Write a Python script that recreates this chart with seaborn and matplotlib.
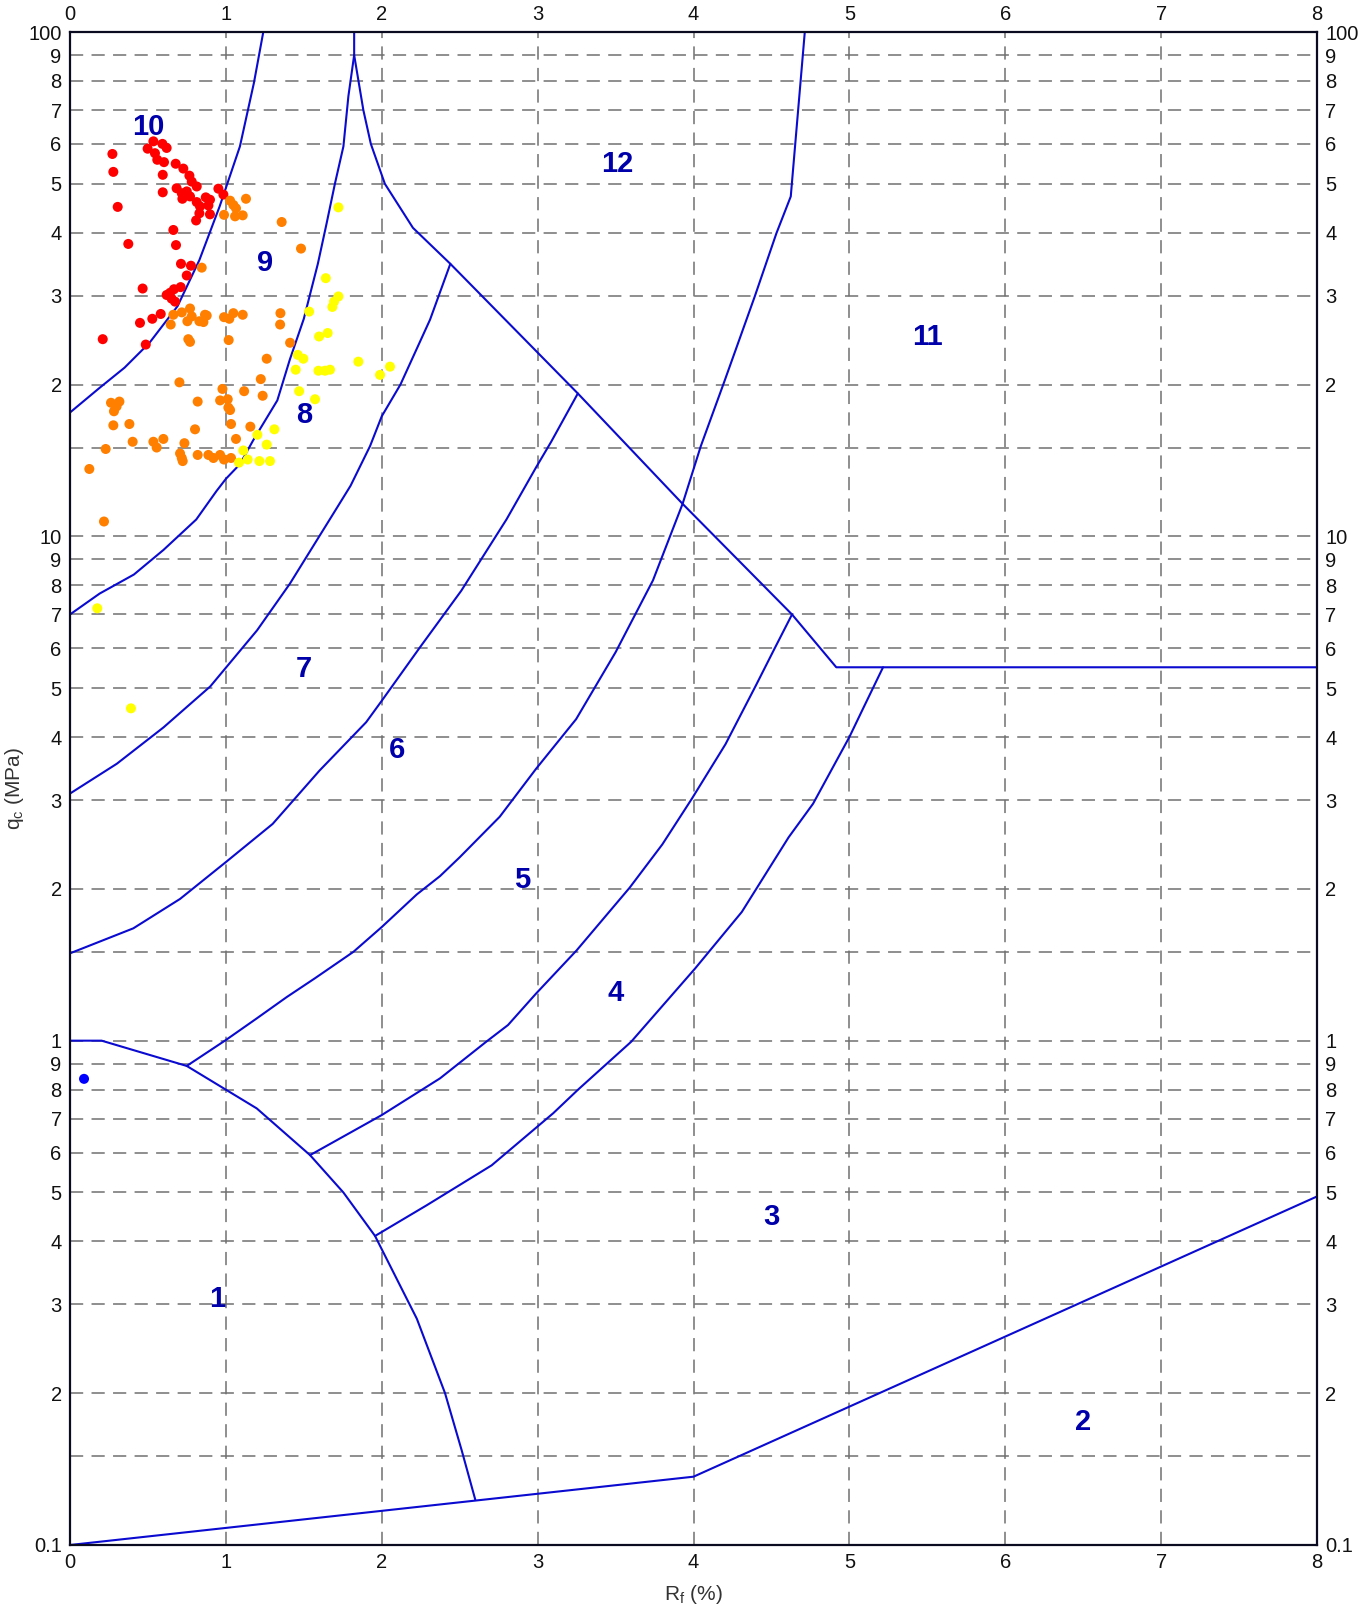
import numpy as np
import pandas as pd
import matplotlib
matplotlib.use("Agg")
import matplotlib.pyplot as plt
import seaborn as sns
from matplotlib.ticker import NullFormatter, FixedLocator

# ---------------- data ----------------
# zone boundary lines (Rf %, qc MPa)
b10_9_x = [0, 0.19, 0.35, 0.51, 0.69, 0.83, 0.96, 1.09, 1.18, 1.24]
b10_9_y = [17.6, 19.7, 21.6, 24.2, 28.6, 35.3, 45.1, 59.3, 79.3, 100]

b9_8_x = [0, 0.19, 0.41, 0.60, 0.81, 0.94, 1.0, 1.09, 1.175, 1.33, 1.41, 1.50, 1.59, 1.646, 1.70, 1.754, 1.786, 1.823, 1.823]
b9_8_y = [7.0, 7.7, 8.4, 9.4, 10.8, 12.3, 13.0, 13.9, 15.5, 18.6, 22.4, 27.0, 34.7, 41.7, 50.1, 59.3, 74.6, 90, 100]

b8_7_x = [0, 0.3, 0.6, 0.9, 1.2, 1.41, 1.69, 1.8, 1.925, 2.0, 2.12, 2.31, 2.44]
b8_7_y = [3.09, 3.54, 4.18, 5.04, 6.51, 8.05, 11.1, 12.6, 15.1, 17.3, 20.0, 26.9, 34.7]

b7_6_x = [0, 0.406, 0.706, 1.0, 1.30, 1.60, 1.90, 2.0, 2.246, 2.51, 2.80, 2.99, 3.087, 3.258]
b7_6_y = [1.49, 1.67, 1.91, 2.26, 2.69, 3.43, 4.28, 4.72, 6.03, 7.8, 10.8, 13.7, 15.4, 19.2]

b12_x = [1.823, 1.882, 1.93, 2.02, 2.20, 2.44, 3.258, 3.93, 4.632, 4.916, 8.0]
b12_y = [90, 70, 60, 50, 40.9, 34.7, 19.2, 11.6, 7.0, 5.5, 5.5]

b6_5_x = [0.749, 1.0, 1.198, 1.39, 1.572, 1.818, 2.0, 2.225, 2.374, 2.50, 2.757, 2.99, 3.247, 3.50,
          3.74, 3.93, 4.047, 4.196, 4.393, 4.532, 4.624, 4.714]
b6_5_y = [0.891, 1.003, 1.107, 1.22, 1.33, 1.50, 1.68, 1.95, 2.12, 2.31, 2.78, 3.46, 4.34, 5.89,
          8.18, 11.6, 15.1, 20.2, 29.9, 39.9, 47.2, 100]

b5_4_x = [1.54, 2.0, 2.374, 2.67, 2.81, 2.99, 3.25, 3.59, 3.80, 3.99, 4.205, 4.40, 4.514, 4.632]
b5_4_y = [0.593, 0.712, 0.842, 0.995, 1.074, 1.24, 1.51, 2.01, 2.45, 3.02, 3.87, 5.06, 5.94, 7.0]

b4_3_x = [1.957, 2.29, 2.705, 3.10, 3.26, 3.60, 4.01, 4.31, 4.61, 4.767, 5.0, 5.09, 5.216]
b4_3_y = [0.41, 0.472, 0.566, 0.718, 0.80, 0.995, 1.39, 1.80, 2.53, 2.95, 4.0, 4.57, 5.5]

b1_x = [0, 0.203, 0.749, 1.198, 1.54, 1.754, 1.957, 2.225, 2.406, 2.513, 2.6]
b1_y = [1.0, 1.0, 0.891, 0.734, 0.593, 0.50, 0.41, 0.281, 0.20, 0.154, 0.123]

b2_x = [0, 4.0, 8.0]
b2_y = [0.1, 0.1366, 0.491]

# zone labels
zone_names = ["1", "2", "3", "4", "5", "6", "7", "8", "9", "10", "11", "12"]
zone_x = [0.945, 6.50, 4.50, 3.50, 2.90, 2.10, 1.50, 1.50, 1.25, 0.50, 5.50, 3.51]
zone_y = [0.308, 0.175, 0.448, 1.245, 2.08, 3.77, 5.46, 17.4, 34.8, 64.7, 24.9, 54.7]

# CPT data points
red_x = [0.272, 0.278, 0.306, 0.374, 0.466, 0.449, 0.528, 0.582, 0.486, 0.21, 0.535, 0.498, 0.593, 0.62,
         0.545, 0.56, 0.603, 0.595, 0.595, 0.678, 0.727, 0.766, 0.781, 0.813, 0.684, 0.717, 0.749, 0.721,
         0.77, 0.813, 0.871, 0.898, 0.888, 0.834, 0.83, 0.809, 0.898, 0.952, 0.984, 0.663, 0.68, 0.712,
         0.776, 0.749, 0.71, 0.667, 0.642, 0.62, 0.652, 0.674]
red_y = [57.3, 52.8, 45.0, 38.0, 31.0, 26.5, 27.0, 27.6, 24.0, 24.6, 60.7, 58.7, 60.0, 58.9,
         57.5, 55.8, 55.2, 52.1, 48.1, 54.8, 53.6, 51.9, 50.5, 49.4, 49.0, 47.9, 48.3, 46.7,
         47.2, 46.0, 47.0, 46.5, 45.3, 45.1, 43.7, 42.3, 43.5, 48.9, 47.6, 40.5, 37.8, 34.7,
         34.4, 32.9, 31.2, 30.9, 30.4, 30.1, 29.6, 29.2]

orange_x = [1.027, 1.048, 1.065, 1.059, 0.988, 1.108, 1.129, 1.358, 1.482, 0.845, 0.663, 0.717, 0.77,
            0.781, 0.753, 0.83, 0.866, 0.877, 0.856, 0.988, 1.022, 1.048, 1.108, 1.35, 1.348, 1.412,
            0.646, 0.759, 0.77, 1.018, 1.262, 0.702, 0.978, 1.012, 0.963, 1.016, 1.027, 1.117, 1.224,
            1.236, 0.819, 0.263, 0.317, 0.299, 0.282, 0.278, 0.381, 0.802, 1.033, 1.065, 1.157, 0.402,
            0.535, 0.599, 0.556, 0.734, 0.229, 0.124, 0.706, 0.717, 0.723, 0.819, 0.888, 0.92, 0.963,
            0.988, 1.033, 0.218]
orange_y = [46.3, 45.4, 44.7, 43.1, 43.4, 43.3, 46.7, 42.0, 37.2, 34.1, 27.5, 27.8, 28.3,
            27.3, 26.7, 26.7, 27.5, 27.4, 26.6, 27.2, 27.0, 27.7, 27.5, 27.7, 26.3, 24.2,
            26.3, 24.6, 24.3, 24.5, 22.5, 20.2, 19.6, 18.7, 18.6, 18.0, 17.8, 19.4, 20.5,
            19.0, 18.5, 18.4, 18.5, 18.1, 17.7, 16.6, 16.7, 16.3, 16.7, 15.6, 16.5, 15.4,
            15.4, 15.6, 15.0, 15.3, 14.9, 13.6, 14.6, 14.3, 14.1, 14.5, 14.5, 14.3, 14.5,
            14.2, 14.3, 10.7]

yellow_x = [1.722, 1.641, 1.722, 1.694, 1.683, 1.534, 1.598, 1.653, 1.461, 1.497, 1.448, 1.594, 1.636,
            1.668, 1.85, 1.989, 2.053, 1.47, 1.572, 1.311, 1.202, 1.262, 1.112, 1.084, 1.14, 1.215,
            1.283, 0.175, 0.391]
yellow_y = [44.9, 32.5, 29.9, 29.2, 28.5, 27.9, 24.9, 25.3, 22.9, 22.5, 21.4, 21.3, 21.3,
            21.4, 22.2, 20.9, 21.7, 19.4, 18.7, 16.3, 15.9, 15.2, 14.8, 14.0, 14.2, 14.1,
            14.1, 7.2, 4.56]

blue_x = [0.09]
blue_y = [0.84]

# axis ticks
x_ticks = [0, 1, 2, 3, 4, 5, 6, 7, 8]
x_tick_labels = ["0", "1", "2", "3", "4", "5", "6", "7", "8"]
y_ticks = [0.1, 0.2, 0.3, 0.4, 0.5, 0.6, 0.7, 0.8, 0.9, 1, 2, 3, 4, 5, 6, 7, 8, 9,
           10, 20, 30, 40, 50, 60, 70, 80, 90, 100]
y_tick_labels = ["0.1", "2", "3", "4", "5", "6", "7", "8", "9", "1", "2", "3", "4", "5", "6", "7", "8", "9",
                 "10", "2", "3", "4", "5", "6", "7", "8", "9", "100"]
y_extra_grid = [0.15, 1.5, 15]

# ---------------- style ----------------
sns.set_theme(style="white")
plt.rcParams["font.family"] = ["Liberation Sans", "DejaVu Sans"]
plt.rcParams["mathtext.fontset"] = "custom"
plt.rcParams["mathtext.rm"] = "Liberation Sans"
plt.rcParams["lines.scale_dashes"] = False

LINE_C = "#0a0ad0"
LABEL_C = "#0000aa"
TEXT_C = "#111111"

fig = plt.figure(figsize=(13.67, 16.07), dpi=100)
ax = fig.add_axes([70 / 1367, 1 - 1545 / 1607, 1247 / 1367, 1513 / 1607])
ax.set_yscale("log")
ax.set_xlim(0, 8)
ax.set_ylim(0.1, 100)

# boundaries
for bx, by in [(b10_9_x, b10_9_y), (b9_8_x, b9_8_y), (b8_7_x, b8_7_y), (b7_6_x, b7_6_y),
               (b12_x, b12_y), (b6_5_x, b6_5_y), (b5_4_x, b5_4_y), (b4_3_x, b4_3_y),
               (b1_x, b1_y), (b2_x, b2_y)]:
    sns.lineplot(x=bx, y=by, sort=False, estimator=None, color=LINE_C, lw=1.5, ax=ax, zorder=2)

# points
pts = pd.DataFrame({
    "Rf": red_x + orange_x + yellow_x + blue_x,
    "qc": red_y + orange_y + yellow_y + blue_y,
    "grp": (["red"] * len(red_x) + ["orange"] * len(orange_x)
            + ["yellow"] * len(yellow_x) + ["blue"] * len(blue_x)),
})
palette = {"red": "#ff0000", "orange": "#ff8000", "yellow": "#ffff00", "blue": "#0000ff"}
sns.scatterplot(data=pts, x="Rf", y="qc", hue="grp", palette=palette, s=52, linewidth=0,
                legend=False, ax=ax, zorder=3)

# zone labels
for nm, zx, zy in zip(zone_names, zone_x, zone_y):
    ax.text(zx, zy, nm, color=LABEL_C, fontsize=21, fontweight="bold", ha="center", va="center", zorder=4)

# ticks / grid
ax.set_xticks(x_ticks)
ax.set_xticklabels(x_tick_labels)
ax.yaxis.set_major_locator(FixedLocator(y_ticks))
ax.set_yticklabels(y_tick_labels)
ax.yaxis.set_minor_locator(FixedLocator(y_extra_grid))
ax.yaxis.set_minor_formatter(NullFormatter())
ax.tick_params(which="both", length=0, labelsize=14.5, labelcolor=TEXT_C, pad=6,
               top=True, right=True, labeltop=True, labelright=True)
ax.set_axisbelow(True)
ax.grid(True, which="both", color="#707070", linewidth=1.1, linestyle=(0, (9.5, 6)))

for sp in ax.spines.values():
    sp.set_color("#0a0a20")
    sp.set_linewidth(1.6)
    sp.set_visible(True)

ax.set_xlabel(r"R$_\mathregular{f}$ (%)", fontsize=15, color="#333333", labelpad=8)
ax.set_ylabel(r"q$_\mathregular{c}$ (MPa)", fontsize=15, color="#333333", labelpad=2)

fig.savefig("out.png", dpi=100)
